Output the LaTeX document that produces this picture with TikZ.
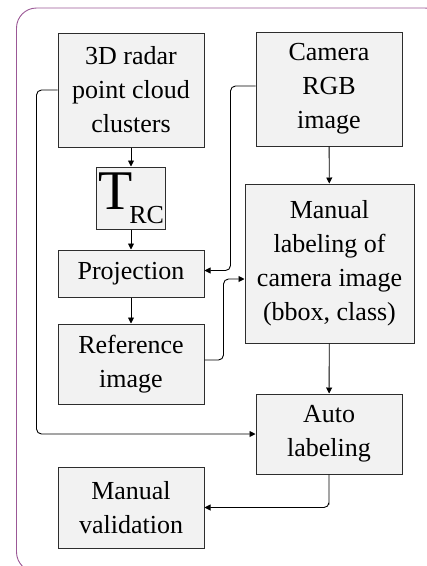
\documentclass[tikz,border=0pt]{standalone}
\usepackage{fontspec}
\setmainfont{Liberation Serif}
\usetikzlibrary{arrows.meta,calc}
\definecolor{framepurple}{RGB}{155,88,150}
\definecolor{boxfill}{RGB}{242,242,242}
\definecolor{boxline}{RGB}{45,45,45}
\tikzset{
  stagebox/.style={draw=boxline, fill=boxfill, line width=1pt, inner sep=0pt,
    align=center, font=\fontsize{26}{34}\selectfont},
  conn/.style={draw=black, line width=0.9pt, rounded corners=5pt,
    -{Triangle[length=6pt,width=6pt]}},
  outerframe/.style={draw=framepurple, line width=0.9pt, rounded corners=20pt}
}
\begin{document}
\begin{tikzpicture}[x=1pt,y=-1pt]
  \useasboundingbox (0,0) rectangle (427,566);
  \draw[outerframe] (16.5,8) rectangle (445,572);

  % left column
  \node[stagebox, minimum width=146pt, minimum height=114pt] (radar) at (131,90)
    {3D radar\\point cloud\\clusters};
  \node[stagebox, minimum width=69pt, minimum height=62pt] (trc) at (131,198)
    {{\fontsize{56}{56}\selectfont T}\kern-3pt\raisebox{-14pt}{RC}};
  \node[stagebox, minimum width=146pt, minimum height=47pt] (proj) at (131,273.5)
    {Projection};
  \node[stagebox, minimum width=146pt, minimum height=80pt] (ref) at (131,364)
    {Reference\\image};
  \node[stagebox, minimum width=146pt, minimum height=81pt] (valid) at (131,507.5)
    {Manual\\validation};

  % right column
  \node[stagebox, minimum width=146pt, minimum height=114pt] (cam) at (329,89)
    {Camera\\RGB\\image};
  \node[stagebox, minimum width=169pt, minimum height=159pt] (manlab) at (329.5,263.5)
    {Manual\\labeling of\\camera image\\(bbox, class)};
  \node[stagebox, minimum width=146pt, minimum height=80pt] (auto) at (329,434)
    {Auto\\labeling};

  % straight links
  \draw[conn] (radar) -- (trc);
  \draw[conn] (trc) -- (proj);
  \draw[conn] (proj) -- (ref);
  \draw[conn] (cam) -- (manlab);
  \draw[conn] (manlab) -- (auto);

  % routed links
  \draw[conn] (radar.west) -- ++(-21,0) |- (auto.west);
  \draw[conn] ([yshift=3pt]cam.west) -- ++(-25,0) |- ([yshift=3pt]proj.east);
  \draw[conn] ([yshift=4pt]ref.east) -- ++(19,0) |- ([yshift=-15.5pt]manlab.west);
  \draw[conn] (auto.south) -- ++(0,33) |- (valid.east);
\end{tikzpicture}
\end{document}
